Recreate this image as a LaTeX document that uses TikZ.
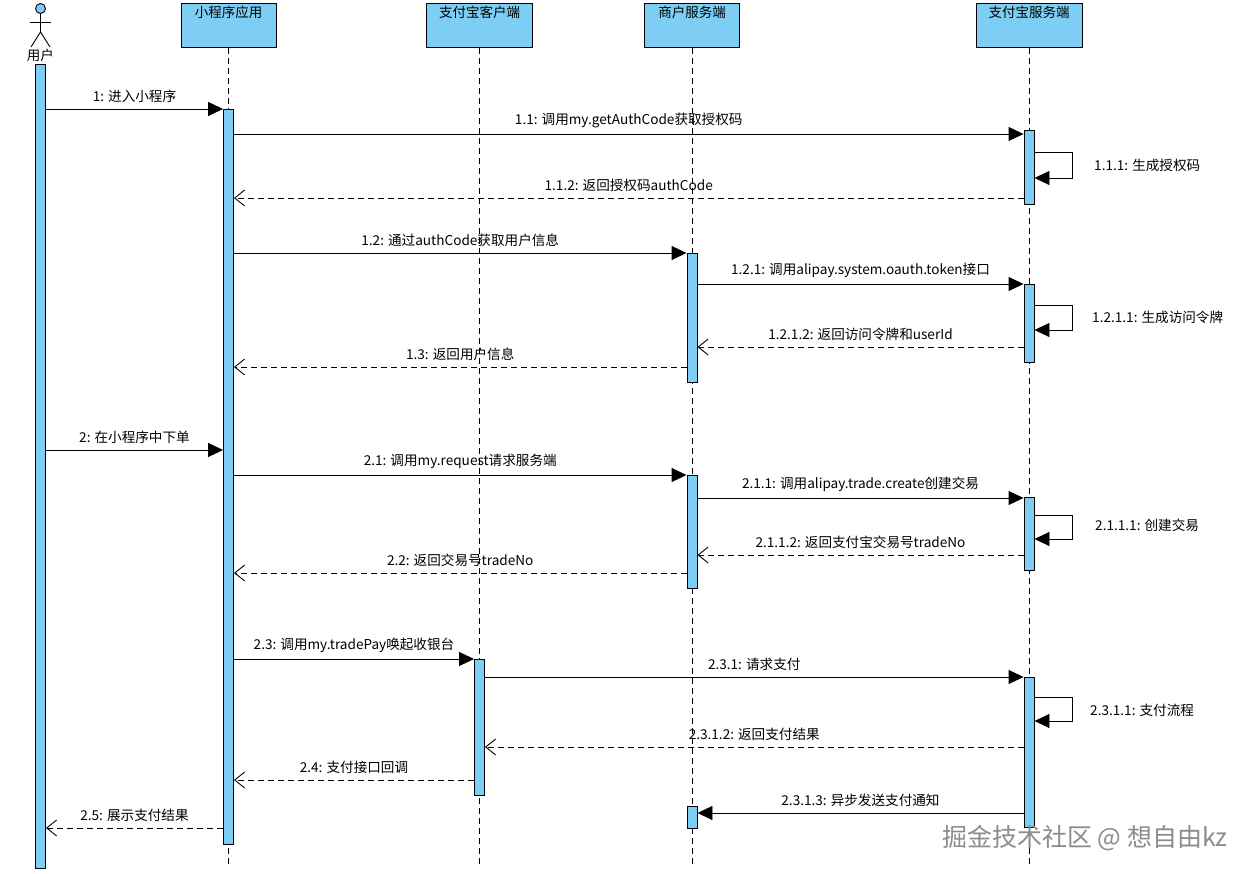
\documentclass[tikz,border=0pt]{standalone}
\usepackage{fontspec}
\setmainfont{Noto Sans CJK SC}
\usetikzlibrary{arrows.meta}
\definecolor{lb}{RGB}{126,206,244}
\begin{document}
\begin{tikzpicture}[x=1pt,y=-1pt,
  head/.style={draw, fill=lb, line width=0.9pt, minimum height=44pt, inner sep=3pt,
    text height=11.5pt, text depth=27pt, anchor=north, font=\fontsize{13.5}{15}\selectfont},
  lifeline/.style={line width=0.9pt, dash pattern=on 6pt off 4pt},
  bar/.style={draw, fill=lb, line width=0.9pt, minimum width=10pt, inner sep=0pt, anchor=north},
  msg/.style={line width=0.9pt, -{Triangle[length=15pt,width=14pt]}},
  ret/.style={line width=0.9pt, dash pattern=on 6pt off 4pt,
    -{Straight Barb[length=10pt,width=16pt,line width=0.9pt]}},
  lbl/.style={font=\fontsize{13.6}{15}\selectfont, inner sep=0pt, above=6pt},
  slbl/.style={font=\fontsize{13.6}{15}\selectfont, inner sep=0pt, anchor=west}
]
\useasboundingbox[fill=white] (0,0) rectangle (1252,874);

% lifeline heads
\node[head, minimum width=95pt]  (app) at (228.5,3) {小程序应用};
\node[head, minimum width=106pt] (cli) at (479.5,3) {支付宝客户端};
\node[head, minimum width=95pt]  (mer) at (692,3)   {商户服务端};
\node[head, minimum width=106pt] (ali) at (1029,3)  {支付宝服务端};

\coordinate (bot) at (0,868);
\draw[lifeline] (app.south) -- (app.south |- bot);
\draw[lifeline] (cli.south) -- (cli.south |- bot);
\draw[lifeline] (mer.south) -- (mer.south |- bot);
\draw[lifeline] (ali.south) -- (ali.south |- bot);

% actor
\node[circle, draw, fill=lb, line width=0.9pt, minimum size=10pt, inner sep=0pt] (hd) at (40.5,8.5) {};
\coordinate (hip) at (40.5,32);
\draw[line width=0.9pt] (hd.south) -- (hip);
\draw[line width=0.9pt] (30,22) -- (51,22);
\draw[line width=0.9pt] (31,47) -- (hip) -- (50,47);
\node[font=\fontsize{13.5}{15}\selectfont, inner sep=0pt] (user) at (40.5,55) {用户};

% activation bars
\node[bar, minimum height=804pt] (ubar) at (40.5,64) {};
\node[bar, minimum height=735pt] (abar) at (228.5,109) {};
\node[bar, minimum height=74pt]  (ali1) at (1029,130) {};
\node[bar, minimum height=129pt] (mer1) at (692,253) {};
\node[bar, minimum height=78pt]  (ali2) at (1029,284) {};
\node[bar, minimum height=113pt] (mer2) at (692,475) {};
\node[bar, minimum height=73pt]  (ali3) at (1029,497) {};
\node[bar, minimum height=136pt] (cbar) at (479.5,659) {};
\node[bar, minimum height=150pt] (ali4) at (1029,677) {};
\node[bar, minimum height=22pt]  (mer3) at (692,806) {};

% message levels
\foreach \n/\y in {a/109,b/134,c/152,d/178,e/198,f/253,g/284,h/305,i/330,j/347,k/367,
  l/450,m/475,n/498,o/515,p/539,q/555,r/573,s/659,t/677,u/697,v/721,w/747,x/780,y/813,z/828}
  \coordinate (y\n) at (0,\y);

\draw[msg] (ubar.east |- ya) -- (abar.west |- ya) node[lbl, midway] (l1) {1: 进入小程序};
\draw[msg] (abar.east |- yb) -- (ali1.west |- yb) node[lbl, midway] (l11) {1.1: 调用my.getAuthCode获取授权码};
\draw[msg] (ali1.east |- yc) -- ++(38,0) |- (ali1.east |- yd);
\node[slbl] (l111) at (1094,165) {1.1.1: 生成授权码};
\draw[ret] (ali1.west |- ye) -- (abar.east |- ye) node[lbl, midway] (l112) {1.1.2: 返回授权码authCode};
\draw[msg] (abar.east |- yf) -- (mer1.west |- yf) node[lbl, midway] (l12) {1.2: 通过authCode获取用户信息};
\draw[msg] (mer1.east |- yg) -- (ali2.west |- yg) node[lbl, midway] (l121) {1.2.1: 调用alipay.system.oauth.token接口};
\draw[msg] (ali2.east |- yh) -- ++(38,0) |- (ali2.east |- yi);
\node[slbl] (l1211) at (1092,317) {1.2.1.1: 生成访问令牌};
\draw[ret] (ali2.west |- yj) -- (mer1.east |- yj) node[lbl, midway] (l1212) {1.2.1.2: 返回访问令牌和userId};
\draw[ret] (mer1.west |- yk) -- (abar.east |- yk) node[lbl, midway] (l13) {1.3: 返回用户信息};

\draw[msg] (ubar.east |- yl) -- (abar.west |- yl) node[lbl, midway] (l2) {2: 在小程序中下单};
\draw[msg] (abar.east |- ym) -- (mer2.west |- ym) node[lbl, midway] (l21) {2.1: 调用my.request请求服务端};
\draw[msg] (mer2.east |- yn) -- (ali3.west |- yn) node[lbl, midway] (l211) {2.1.1: 调用alipay.trade.create创建交易};
\draw[msg] (ali3.east |- yo) -- ++(38,0) |- (ali3.east |- yp);
\node[slbl] (l2111) at (1095,525) {2.1.1.1: 创建交易};
\draw[ret] (ali3.west |- yq) -- (mer2.east |- yq) node[lbl, midway] (l2112) {2.1.1.2: 返回支付宝交易号tradeNo};
\draw[ret] (mer2.west |- yr) -- (abar.east |- yr) node[lbl, midway] (l22) {2.2: 返回交易号tradeNo};

\draw[msg] (abar.east |- ys) -- (cbar.west |- ys) node[lbl, midway] (l23) {2.3: 调用my.tradePay唤起收银台};
\draw[msg] (cbar.east |- yt) -- (ali4.west |- yt) node[lbl, midway] (l231) {2.3.1: 请求支付};
\draw[msg] (ali4.east |- yu) -- ++(38,0) |- (ali4.east |- yv);
\node[slbl] (l2311) at (1090,710) {2.3.1.1: 支付流程};
\draw[ret] (ali4.west |- yw) -- (cbar.east |- yw) node[lbl, midway] (l2312) {2.3.1.2: 返回支付结果};
\draw[ret] (cbar.west |- yx) -- (abar.east |- yx) node[lbl, midway] (l24) {2.4: 支付接口回调};
\draw[msg] (ali4.west |- yy) -- (mer3.east |- yy) node[lbl, midway] (l2313) {2.3.1.3: 异步发送支付通知};
\draw[ret] (abar.west |- yz) -- (ubar.east |- yz) node[lbl, midway] (l25) {2.5: 展示支付结果};

% watermark
\node[font=\fontsize{25}{28}\selectfont, text=black!45, inner sep=0pt] (wm) at (1085,838) {掘金技术社区 @ 想自由kz};
\end{tikzpicture}
\end{document}
